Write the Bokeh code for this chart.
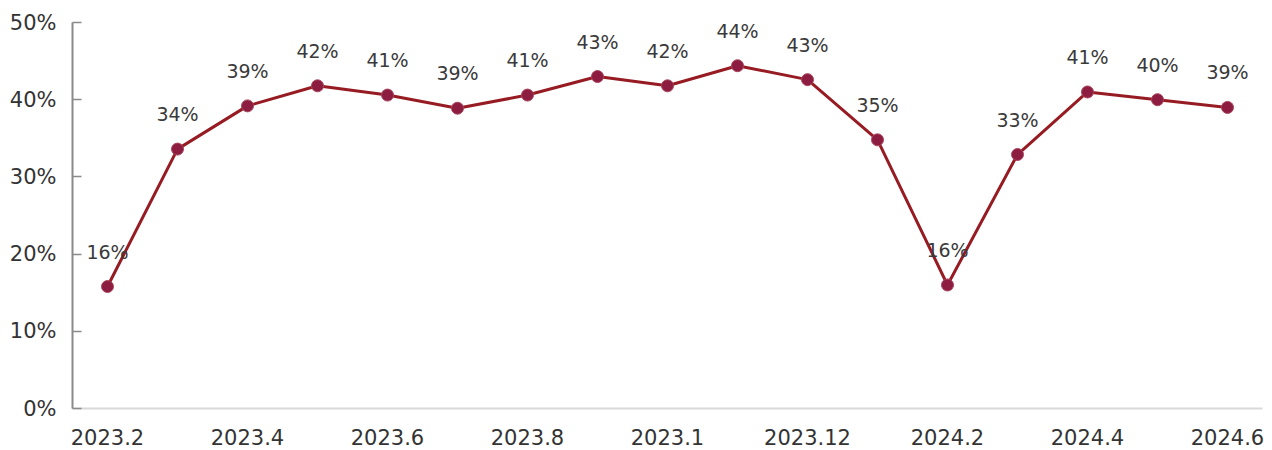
from bokeh.plotting import figure
from bokeh.models import ColumnDataSource, LabelSet, Range1d, FixedTicker, NumeralTickFormatter
from bokeh.core.properties import value
from bokeh.embed import file_html
from bokeh.resources import INLINE

months = ["2023.2", "2023.3", "2023.4", "2023.5", "2023.6", "2023.7", "2023.8", "2023.9",
          "2023.1", "2023.11", "2023.12", "2024.1", "2024.2", "2024.3", "2024.4", "2024.5", "2024.6"]
values_pct = [15.8, 33.6, 39.2, 41.8, 40.6, 38.9, 40.6, 43.0, 41.8, 44.4, 42.6, 34.8, 16.0, 32.9, 41.0, 40.0, 39.0]
y_ticks = [0.0, 0.1, 0.2, 0.3, 0.4, 0.5]

FONT = "DejaVu Sans"

idx = list(range(len(months)))
src = ColumnDataSource(dict(
    x=idx,
    y=[v / 100 for v in values_pct],
    label=[f"{int(v + 0.5)}%" for v in values_pct],
))

p = figure(frame_width=1190, frame_height=386, output_backend="svg", toolbar_location=None,
           x_range=Range1d(-0.5, len(months) - 0.5), y_range=Range1d(0, 0.5),
           min_border_left=72, min_border_top=22, min_border_right=6, min_border_bottom=42)
p.outline_line_color = None
p.xgrid.grid_line_color = None
p.ygrid.grid_line_color = None
p.background_fill_color = "white"

p.line("x", "y", source=src, line_color="#971b22", line_width=3)
p.scatter("x", "y", source=src, size=12, fill_color="#8c1d40", line_color="#a8445c", line_width=1)

labels = LabelSet(x="x", y="y", text="label", source=src, text_align="center",
                  text_baseline="alphabetic", y_offset=28, text_font=value(FONT),
                  text_font_size="19px", text_color="#3a3a3a")
p.add_layout(labels)

# y axis
p.yaxis.ticker = FixedTicker(ticks=y_ticks)
p.yaxis.formatter = NumeralTickFormatter(format="0%")
p.yaxis.axis_line_color = "#8a8a8a"
p.yaxis.axis_line_width = 2
p.yaxis.major_tick_in = 9
p.yaxis.major_tick_out = 0
p.yaxis.major_tick_line_color = "#8a8a8a"
p.yaxis.major_tick_line_width = 1.5
p.yaxis.minor_tick_line_color = None
p.yaxis.major_label_standoff = 16
p.yaxis.major_label_text_font = FONT
p.yaxis.major_label_text_font_size = "21px"
p.yaxis.major_label_text_color = "#333333"

# x axis
p.xaxis.ticker = FixedTicker(ticks=idx[::2])
p.xaxis.major_label_overrides = {i: months[i] for i in idx[::2]}
p.xaxis.axis_line_color = "#d9d9d9"
p.xaxis.axis_line_width = 2
p.xaxis.major_tick_line_color = None
p.xaxis.minor_tick_line_color = None
p.xaxis.major_label_standoff = 14
p.xaxis.major_label_text_font = FONT
p.xaxis.major_label_text_font_size = "21px"
p.xaxis.major_label_text_color = "#333333"

open("out.html", "w").write(file_html(p, INLINE))
